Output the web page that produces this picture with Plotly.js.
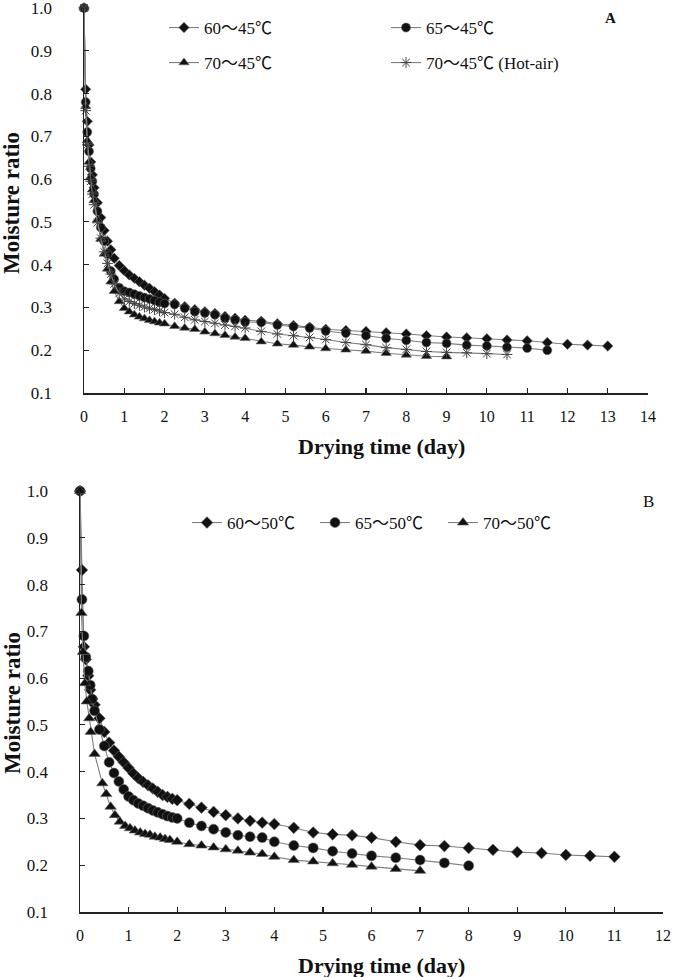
<!DOCTYPE html>
<html>
<head>
<meta charset="utf-8">
<script src="https://cdn.plot.ly/plotly-3.0.1.min.js"></script>
<style>html,body{margin:0;padding:0;background:#fff;}</style>
</head>
<body>
<div id="chart" style="width:680px;height:977px;"></div>
<script>
// ---------- Panel A data ----------
const daysA = [0, 0.042, 0.083, 0.125, 0.167, 0.208, 0.25, 0.333, 0.417, 0.5, 0.583, 0.667, 0.75, 0.875, 1.0, 1.125, 1.25, 1.375, 1.5, 1.625, 1.75, 1.875, 2.0, 2.25, 2.5, 2.75, 3, 3.25, 3.5, 3.75, 4, 4.4, 4.8, 5.2, 5.6, 6, 6.5, 7, 7.5, 8, 8.5, 9, 9.5, 10, 10.5, 11, 11.5, 12, 12.5, 13];
const mrA_60_45 = [1.0, 0.81, 0.735, 0.68, 0.64, 0.61, 0.58, 0.545, 0.51, 0.48, 0.455, 0.435, 0.415, 0.398, 0.386, 0.376, 0.368, 0.36, 0.352, 0.345, 0.337, 0.329, 0.321, 0.31, 0.302, 0.295, 0.29, 0.286, 0.279, 0.275, 0.27, 0.268, 0.262, 0.258, 0.254, 0.249, 0.246, 0.244, 0.241, 0.238, 0.234, 0.231, 0.229, 0.227, 0.224, 0.222, 0.218, 0.214, 0.212, 0.21];
const mrA_65_45 = [1.0, 0.78, 0.71, 0.665, 0.625, 0.595, 0.565, 0.525, 0.487, 0.455, 0.425, 0.385, 0.366, 0.346, 0.338, 0.335, 0.331, 0.327, 0.323, 0.32, 0.316, 0.312, 0.309, 0.307, 0.298, 0.29, 0.287, 0.283, 0.275, 0.271, 0.266, 0.265, 0.259, 0.255, 0.252, 0.245, 0.24, 0.234, 0.228, 0.223, 0.218, 0.216, 0.212, 0.21, 0.207, 0.205, 0.2];
const mrA_70_45 = [1.0, 0.77, 0.69, 0.64, 0.605, 0.575, 0.55, 0.505, 0.46, 0.425, 0.39, 0.36, 0.338, 0.314, 0.298, 0.29, 0.283, 0.278, 0.274, 0.27, 0.267, 0.264, 0.262, 0.256, 0.252, 0.249, 0.243, 0.239, 0.235, 0.231, 0.228, 0.22, 0.215, 0.212, 0.208, 0.204, 0.201, 0.198, 0.193, 0.189, 0.186, 0.185];
const mrA_70_45_hot = [1.0, 0.76, 0.68, 0.63, 0.595, 0.565, 0.54, 0.498, 0.462, 0.43, 0.403, 0.378, 0.355, 0.333, 0.32, 0.314, 0.309, 0.305, 0.301, 0.298, 0.295, 0.292, 0.288, 0.284, 0.277, 0.271, 0.267, 0.263, 0.259, 0.256, 0.252, 0.244, 0.238, 0.234, 0.23, 0.225, 0.218, 0.213, 0.206, 0.202, 0.197, 0.195, 0.194, 0.192, 0.19];

// ---------- Panel B data ----------
const daysB = [0, 0.04, 0.08, 0.12, 0.17, 0.21, 0.25, 0.3, 0.4, 0.5, 0.6, 0.7, 0.8, 0.9, 1.0, 1.1, 1.2, 1.3, 1.4, 1.5, 1.6, 1.7, 1.8, 1.9, 2.0, 2.25, 2.5, 2.75, 3, 3.25, 3.5, 3.75, 4, 4.4, 4.8, 5.2, 5.6, 6, 6.5, 7, 7.5, 8, 8.5, 9, 9.5, 10, 10.5, 11];
const mrB_60_50 = [1.0, 0.831, 0.667, 0.64, 0.605, 0.575, 0.556, 0.543, 0.514, 0.485, 0.462, 0.445, 0.432, 0.42, 0.408, 0.396, 0.386, 0.378, 0.371, 0.364, 0.357, 0.35, 0.346, 0.342, 0.339, 0.331, 0.323, 0.314, 0.307, 0.3, 0.295, 0.291, 0.288, 0.28, 0.27, 0.266, 0.264, 0.259, 0.25, 0.243, 0.241, 0.237, 0.233, 0.228, 0.226, 0.222, 0.22, 0.218];
const mrB_65_50 = [1.0, 0.768, 0.69, 0.645, 0.615, 0.585, 0.555, 0.53, 0.49, 0.455, 0.42, 0.397, 0.379, 0.362, 0.347, 0.339, 0.332, 0.327, 0.322, 0.317, 0.313, 0.309, 0.305, 0.302, 0.3, 0.291, 0.284, 0.277, 0.27, 0.264, 0.261, 0.259, 0.25, 0.242, 0.237, 0.23, 0.225, 0.22, 0.216, 0.211, 0.205, 0.199];
const daysB_70_50 = [0, 0.03, 0.06, 0.1, 0.14, 0.19, 0.22, 0.3, 0.46, 0.54, 0.63, 0.72, 0.82, 0.93, 1.03, 1.13, 1.24, 1.34, 1.44, 1.54, 1.65, 1.75, 1.85, 2.0, 2.25, 2.5, 2.75, 3, 3.25, 3.5, 3.75, 4, 4.4, 4.8, 5.2, 5.6, 6, 6.5, 7];
const mrB_70_50 = [1.0, 0.739, 0.656, 0.589, 0.55, 0.514, 0.485, 0.438, 0.375, 0.352, 0.325, 0.307, 0.293, 0.284, 0.279, 0.274, 0.27, 0.267, 0.265, 0.261, 0.259, 0.256, 0.254, 0.25, 0.245, 0.242, 0.238, 0.234, 0.231, 0.227, 0.224, 0.218, 0.211, 0.208, 0.204, 0.201, 0.197, 0.192, 0.188];

const namesA = ['60～45℃', '65～45℃', '70～45℃', '70～45℃ (Hot-air)'];
const namesB = ['60～50℃', '65～50℃', '70～50℃'];
const ticksY = [0.1, 0.2, 0.3, 0.4, 0.5, 0.6, 0.7, 0.8, 0.9, 1.0];
const ticksYText = ['0.1', '0.2', '0.3', '0.4', '0.5', '0.6', '0.7', '0.8', '0.9', '1.0'];

const FONT = '"Liberation Serif", "Noto Sans CJK SC", serif';
const LINE = {color: '#7f7f7f', width: 1.1};

function mk(symbol, size) {
  return {symbol: symbol, size: size, color: '#111', line: {color: '#666', width: 0.6}};
}

const traces = [
  {x: daysA.slice(0, mrA_60_45.length), y: mrA_60_45, name: namesA[0], xaxis: 'x', yaxis: 'y', legend: 'legend',
   mode: 'lines+markers', line: LINE, marker: mk('diamond', 8), cliponaxis: false},
  {x: daysA.slice(0, mrA_65_45.length), y: mrA_65_45, name: namesA[1], xaxis: 'x', yaxis: 'y', legend: 'legend',
   mode: 'lines+markers', line: LINE, marker: mk('circle', 9), cliponaxis: false},
  {x: daysA.slice(0, mrA_70_45.length), y: mrA_70_45, name: namesA[2], xaxis: 'x', yaxis: 'y', legend: 'legend2',
   mode: 'lines+markers', line: LINE, marker: mk('triangle-up', 9), cliponaxis: false},
  {x: daysA.slice(0, mrA_70_45_hot.length), y: mrA_70_45_hot, name: namesA[3], xaxis: 'x', yaxis: 'y', legend: 'legend2',
   mode: 'lines+markers', line: LINE, marker: {symbol: 'asterisk-open', size: 9, color: '#444', line: {color: '#444', width: 1}}, cliponaxis: false},
  {x: daysB.slice(0, mrB_60_50.length), y: mrB_60_50, name: namesB[0], xaxis: 'x2', yaxis: 'y2', legend: 'legend3',
   mode: 'lines+markers', line: LINE, marker: mk('diamond', 9), cliponaxis: false},
  {x: daysB.slice(0, mrB_65_50.length), y: mrB_65_50, name: namesB[1], xaxis: 'x2', yaxis: 'y2', legend: 'legend3',
   mode: 'lines+markers', line: LINE, marker: mk('circle', 10), cliponaxis: false},
  {x: daysB_70_50, y: mrB_70_50, name: namesB[2], xaxis: 'x2', yaxis: 'y2', legend: 'legend3',
   mode: 'lines+markers', line: LINE, marker: mk('triangle-up', 10), cliponaxis: false}
];

const L = 80, R = 17, T = 8, B = 65, W = 680, H = 977;
const PW = W - L - R, PH = H - T - B;
const px = v => (v - L) / PW;          // pixel x -> paper x
const py = v => (H - B - v) / PH;      // pixel y -> paper y

function xax(domain, anchor, maxv) {
  return {domain: domain, anchor: anchor, range: [0, maxv], tickmode: 'linear', tick0: 0, dtick: 1,
    showline: true, linecolor: '#222', linewidth: 1.5, ticks: 'inside', ticklen: 5, tickwidth: 1.2, tickcolor: '#222',
    showgrid: false, zeroline: false, ticklabelstandoff: 8, automargin: false, ticklabeloverflow: 'allow',
    tickfont: {family: FONT, size: 16, color: '#111'}, fixedrange: true};
}
function yax(domain, anchor) {
  return {domain: domain, anchor: anchor, range: [0.1, 1.0], tickmode: 'array', tickvals: ticksY, ticktext: ticksYText,
    showline: true, linecolor: '#222', linewidth: 1.5, ticks: 'inside', ticklen: 5, tickwidth: 1.2, tickcolor: '#222',
    showgrid: false, zeroline: false, ticklabelstandoff: 27, automargin: false, ticklabeloverflow: 'allow',
    tickfont: {family: FONT, size: 17, color: '#111'}, fixedrange: true};
}

const legBase = {orientation: 'h', xref: 'paper', yref: 'paper', xanchor: 'left', yanchor: 'middle',
  bgcolor: 'rgba(0,0,0,0)', borderwidth: 0, itemwidth: 30, font: {family: FONT, size: 17, color: '#111'},
  entrywidthmode: 'pixels'};

const xTitleFont = {family: FONT, size: 22, color: '#111', weight: 'bold'};
const yTitleFont = {family: FONT, size: 23, color: '#111', weight: 'bold'};
function ann(text, x, y, font, angle) {
  return {text: text, xref: 'paper', yref: 'paper', x: px(x), y: py(y), xanchor: 'center', yanchor: 'middle',
    showarrow: false, font: font, textangle: angle || 0};
}

const layout = {
  width: W, height: H,
  margin: {l: L, r: R, t: T, b: B, autoexpand: false},
  paper_bgcolor: '#fff', plot_bgcolor: '#fff',
  font: {family: FONT, color: '#111'},
  showlegend: true,
  xaxis: xax([px(84), px(648)], 'y', 14),
  yaxis: yax([py(393), py(8)], 'x'),
  xaxis2: xax([px(80), px(663)], 'y2', 12),
  yaxis2: yax([py(912), py(491)], 'x2'),
  legend: Object.assign({}, legBase, {x: px(164), y: py(28), entrywidth: 177}),
  legend2: Object.assign({}, legBase, {x: px(164), y: py(63), entrywidth: 177}),
  legend3: Object.assign({}, legBase, {x: px(187), y: py(523), entrywidth: 83}),
  annotations: [
    ann('<b>Drying time (day)</b>', 381, 447, xTitleFont),
    ann('<b>Drying time (day)</b>', 381, 965, xTitleFont),
    ann('<b>Moisture ratio</b>', 12, 203, yTitleFont, -90),
    ann('<b>Moisture ratio</b>', 12, 703, yTitleFont, -90),
    ann('<b>A</b>', 610, 18, {family: FONT, size: 15, color: '#111'}),
    ann('B', 648, 501, {family: FONT, size: 17, color: '#111'})
  ]
};

Plotly.newPlot('chart', traces, layout, {displayModeBar: false, staticPlot: true});
</script>
</body>
</html>
